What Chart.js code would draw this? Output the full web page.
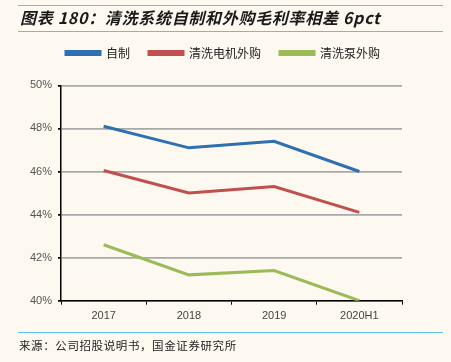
<!DOCTYPE html>
<html><head><meta charset="utf-8">
<script src="https://cdn.jsdelivr.net/npm/chart.js@4.4.0/dist/chart.umd.min.js"></script>
<style>
html,body{margin:0;padding:0;background:#fdf9f0;}
#wrap{position:relative;width:451px;height:362px;overflow:hidden;background:#fdf9f0;}
#c{position:absolute;left:0;top:0;}
.hl{position:absolute;left:18px;width:425px;height:0;border-top:1.5px solid #5cc3ef;}
#title{position:absolute;left:20px;top:6px;font-family:"Noto Sans CJK SC","Liberation Sans",sans-serif;font-weight:bold;font-style:italic;font-size:16px;line-height:22px;color:#1a1a1a;letter-spacing:0.7px;white-space:nowrap;}
#src{position:absolute;left:19px;top:337px;font-family:"Noto Sans CJK SC",sans-serif;font-size:11.5px;line-height:16px;color:#222;letter-spacing:0.6px;white-space:nowrap;}
</style></head>
<body><div id="wrap">
<canvas id="c" width="451" height="362"></canvas>
<div class="hl" style="top:5px"></div>
<div id="title">图表 180：清洗系统自制和外购毛利率相差 6pct</div>
<div class="hl" style="top:31px"></div>
<div class="hl" style="top:332px"></div>
<div id="src">来源：公司招股说明书，国金证券研究所</div>
</div>
<script>
const categories = ["2017", "2018", "2019", "2020H1"];
const seriesNames = ["自制", "清洗电机外购", "清洗泵外购"];
const selfMade = [48.1, 47.1, 47.4, 46.0];
const motorPurchased = [46.05, 45.0, 45.3, 44.1];
const pumpPurchased = [42.6, 41.2, 41.4, 40.0];
const yTicks = [40, 42, 44, 46, 48, 50];
const colors = ["#2f70b3", "#c0504d", "#9bbb59"];

const legendSpacer = {
  id: 'legendSpacer',
  beforeInit(chart) {
    const orig = chart.legend.fit;
    chart.legend.fit = function () {
      orig.bind(chart.legend)();
      this.height += 16.4;
      if (this.lineWidths && this.lineWidths.length) this.lineWidths[0] -= 44;
    };
  }
};

new Chart(document.getElementById('c'), {
  type: 'line',
  data: {
    labels: categories,
    datasets: [selfMade, motorPurchased, pumpPurchased].map((d, i) => ({
      label: seriesNames[i], data: d, borderColor: colors[i], backgroundColor: colors[i],
      borderWidth: 3, pointRadius: 0, tension: 0, fill: false
    }))
  },
  plugins: [legendSpacer],
  options: {
    responsive: false, animation: false,
    layout: { padding: { top: 28, right: 49, left: 0, bottom: 0 } },
    plugins: {
      tooltip: { enabled: false },
      legend: {
        position: 'top',
        labels: { boxWidth: 34, boxHeight: 3, padding: 19, color: '#222',
          font: { family: '"Noto Sans CJK SC", sans-serif', size: 12 } }
      }
    },
    scales: {
      x: {
        offset: true,
        grid: { display: true, drawOnChartArea: false, drawTicks: true, tickLength: 4, color: '#000', offset: true },
        border: { color: '#000', width: 1.5 },
        ticks: { color: '#444', padding: 5, font: { family: '"Liberation Sans", Arial, sans-serif', size: 11 } },
        afterFit(s) { s.height = 61.3; }
      },
      y: {
        min: 40, max: 50,
        afterBuildTicks(s) { s.ticks = yTicks.map(v => ({ value: v })); },
        grid: { color: '#a8a8a8', lineWidth: 1.8, tickLength: 3, tickColor: '#000' },
        border: { color: '#000', width: 1.5 },
        ticks: { color: '#555', padding: 6, callback: v => v + '%',
          font: { family: '"Liberation Sans", Arial, sans-serif', size: 11 } },
        afterFit(s) { s.width = 61; }
      }
    }
  }
});
</script>
</body></html>
